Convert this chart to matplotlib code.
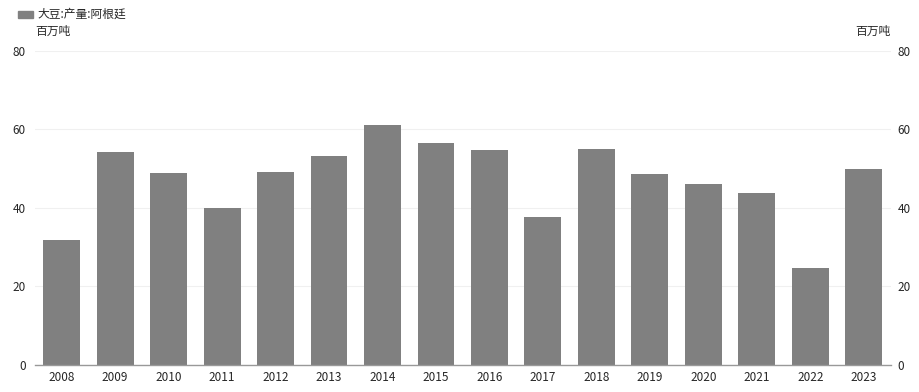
import numpy as np
import matplotlib
matplotlib.use("Agg")
import matplotlib.pyplot as plt
from matplotlib.patches import Rectangle

plt.rcParams['font.family'] = ['Noto Sans CJK SC', 'DejaVu Sans']

years = ["2008", "2009", "2010", "2011", "2012", "2013", "2014", "2015",
         "2016", "2017", "2018", "2019", "2020", "2021", "2022", "2023"]
production = [31.8, 54.2, 48.8, 40.0, 49.2, 53.2, 61.1, 56.5,
              54.7, 37.6, 55.0, 48.6, 46.0, 43.7, 24.8, 49.8]
series_name = "大豆:产量:阿根廷"
unit = "百万吨"
yticks = [0, 20, 40, 60, 80]

bar_color = "#808080"
text_color = "#262626"

fig = plt.figure(figsize=(9.19, 3.92), dpi=100)
ax = fig.add_axes([0.038, 0.069, 0.931, 0.801])

x = np.arange(len(years))
ax.bar(x, production, width=0.69, color=bar_color, zorder=2)

ax.set_xlim(-0.5, len(years) - 0.5)
ax.set_ylim(0, 80)
ax.set_yticks(yticks)
ax.set_xticks(x)
ax.set_xticklabels(years)
ax.grid(axis="y", color="#f0f0f0", linewidth=0.8, zorder=0)

for side in ["top", "left", "right"]:
    ax.spines[side].set_visible(False)
ax.spines["bottom"].set_color("#999999")
ax.spines["bottom"].set_linewidth(1.0)

ax.tick_params(axis="x", length=0, pad=4, labelsize=8.5, labelcolor=text_color)
ax.tick_params(axis="y", length=0, pad=6.5, labelsize=8.5, labelcolor=text_color)

ax2 = ax.twinx()
ax2.set_ylim(ax.get_ylim())
ax2.set_yticks(yticks)
for side in ["top", "left", "right", "bottom"]:
    ax2.spines[side].set_visible(False)
ax2.tick_params(axis="y", length=0, pad=5, labelsize=8.5, labelcolor=text_color)

# legend and units
fig.patches.append(Rectangle((18 / 919, 1 - 18 / 392), 15 / 919, 7 / 392,
                             transform=fig.transFigure, color=bar_color))
fig.text(37 / 919, 1 - 14 / 392, series_name, fontsize=8.5, color=text_color, va="center")
fig.text(35 / 919, 1 - 31 / 392, unit, fontsize=8.5, color=text_color, va="center")
fig.text(890 / 919, 1 - 31 / 392, unit, fontsize=8.5, color=text_color, va="center", ha="right")

fig.savefig("out.png", dpi=100)
